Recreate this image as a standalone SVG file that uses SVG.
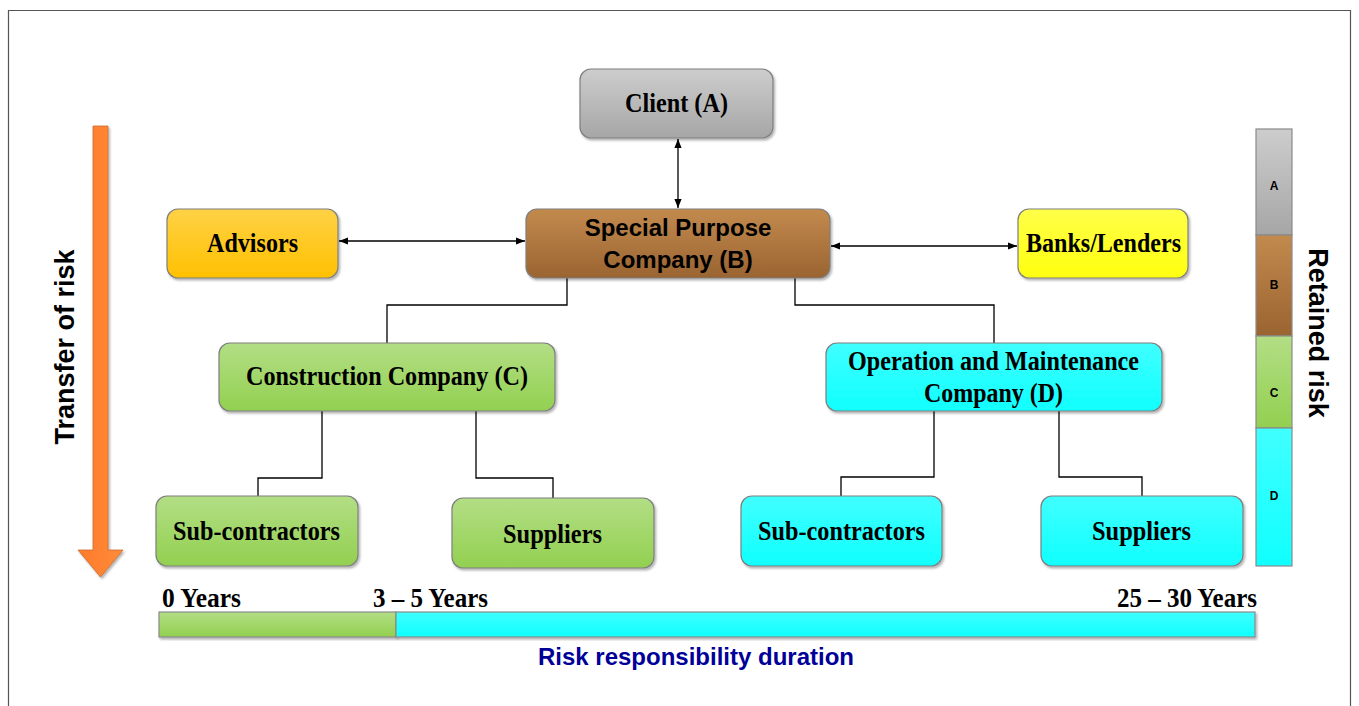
<svg xmlns="http://www.w3.org/2000/svg" width="1359" height="706" viewBox="0 0 1359 706">
  <defs>
    <linearGradient id="gGray" x1="0" y1="0" x2="0" y2="1"><stop offset="0" stop-color="#cdcdcd"/><stop offset="1" stop-color="#a6a6a6"/></linearGradient>
    <linearGradient id="gBrown" x1="0" y1="0" x2="0" y2="1"><stop offset="0" stop-color="#c38a4e"/><stop offset="1" stop-color="#9a6431"/></linearGradient>
    <linearGradient id="gGold" x1="0" y1="0" x2="0" y2="1"><stop offset="0" stop-color="#ffd246"/><stop offset="1" stop-color="#ffc000"/></linearGradient>
    <linearGradient id="gYellow" x1="0" y1="0" x2="0" y2="1"><stop offset="0" stop-color="#ffff48"/><stop offset="1" stop-color="#ffff10"/></linearGradient>
    <linearGradient id="gGreen" x1="0" y1="0" x2="0" y2="1"><stop offset="0" stop-color="#b3de85"/><stop offset="1" stop-color="#92d050"/></linearGradient>
    <linearGradient id="gCyan" x1="0" y1="0" x2="0" y2="1"><stop offset="0" stop-color="#40ffff"/><stop offset="1" stop-color="#10ffff"/></linearGradient>
    <linearGradient id="gOrange" x1="0" y1="0" x2="1" y2="0"><stop offset="0" stop-color="#ff7a2a"/><stop offset="1" stop-color="#ff8c3a"/></linearGradient>
    <filter id="shadow" x="-5%" y="-10%" width="112%" height="125%">
      <feDropShadow dx="1.5" dy="2" stdDeviation="1.2" flood-color="#000" flood-opacity="0.3"/>
    </filter>
    <marker id="arr" viewBox="0 0 10 10" refX="10" refY="5" markerWidth="9" markerHeight="9" orient="auto-start-reverse" markerUnits="userSpaceOnUse">
      <path d="M0,1 L10,5 L0,9 Z" fill="#000"/>
    </marker>
  </defs>
  <style>
    .box { stroke: #7f7f7f; stroke-width: 1.2; filter: url(#shadow); }
    .t { font-family: "Liberation Serif", "Times New Roman", serif; font-weight: bold; font-size: 27px; fill: #000; text-anchor: middle; }
    .ts { font-family: "Liberation Sans", Arial, sans-serif; font-weight: bold; fill: #000; text-anchor: middle; }
    .start { text-anchor: start; }
    .end { text-anchor: end; }
    .navy { fill: #000099; }
    .link { fill: none; stroke: #000; stroke-width: 1.3; }
    .bar { stroke: #8a8a8a; stroke-width: 1.2; }
  </style>

  <rect width="1359" height="706" fill="#fff"/>
  <!-- page frame -->
  <path d="M8.5,706 V10.5 H1350.5 V706" fill="none" stroke="#555" stroke-width="1.2"/>

  <!-- connectors -->
  <g id="connectors">
    <line class="link" x1="678" y1="139" x2="678" y2="208" marker-start="url(#arr)" marker-end="url(#arr)"/>
    <line class="link" x1="339" y1="241" x2="525" y2="241" marker-start="url(#arr)" marker-end="url(#arr)"/>
    <line class="link" x1="831" y1="246" x2="1017" y2="246" marker-start="url(#arr)" marker-end="url(#arr)"/>
    <path class="link" d="M567,278 V305 H387 V343"/>
    <path class="link" d="M795,278 V305 H994 V343"/>
    <path class="link" d="M322,411 V478 H258 V496"/>
    <path class="link" d="M476,411 V478 H553 V498"/>
    <path class="link" d="M934,411 V477 H841 V496"/>
    <path class="link" d="M1059,411 V477 H1142 V496"/>
  </g>

  <g id="client">
    <rect class="box" x="580" y="69" width="193" height="69" rx="11" fill="url(#gGray)"/>
    <text class="t" x="676.5" y="112" textLength="103" lengthAdjust="spacingAndGlyphs">Client (A)</text>
  </g>
  <g id="spc">
    <rect class="box" x="526" y="209" width="304" height="69" rx="11" fill="url(#gBrown)"/>
    <text class="ts" x="678" y="236" font-size="24">Special Purpose</text>
    <text class="ts" x="678" y="268" font-size="24">Company (B)</text>
  </g>
  <g id="advisors">
    <rect class="box" x="167" y="209" width="171" height="69" rx="11" fill="url(#gGold)"/>
    <text class="t" x="252.5" y="252" textLength="91" lengthAdjust="spacingAndGlyphs">Advisors</text>
  </g>
  <g id="banks">
    <rect class="box" x="1018" y="209" width="170" height="69" rx="11" fill="url(#gYellow)"/>
    <text class="t" x="1103.5" y="252" textLength="155" lengthAdjust="spacingAndGlyphs">Banks/Lenders</text>
  </g>
  <g id="construction">
    <rect class="box" x="219" y="343" width="336" height="68" rx="11" fill="url(#gGreen)"/>
    <text class="t" x="387" y="385" textLength="282" lengthAdjust="spacingAndGlyphs">Construction Company (C)</text>
  </g>
  <g id="om">
    <rect class="box" x="826" y="343" width="336" height="68" rx="11" fill="url(#gCyan)"/>
    <text class="t" x="993.5" y="370" textLength="291" lengthAdjust="spacingAndGlyphs">Operation and Maintenance</text>
    <text class="t" x="993.5" y="402" textLength="139" lengthAdjust="spacingAndGlyphs">Company (D)</text>
  </g>
  <g id="sub-c">
    <rect class="box" x="156" y="496" width="202" height="70" rx="11" fill="url(#gGreen)"/>
    <text class="t" x="256.5" y="540" textLength="167" lengthAdjust="spacingAndGlyphs">Sub-contractors</text>
  </g>
  <g id="sup-c">
    <rect class="box" x="452" y="498" width="202" height="70" rx="11" fill="url(#gGreen)"/>
    <text class="t" x="552.5" y="543" textLength="99" lengthAdjust="spacingAndGlyphs">Suppliers</text>
  </g>
  <g id="sub-d">
    <rect class="box" x="741" y="496" width="201" height="70" rx="11" fill="url(#gCyan)"/>
    <text class="t" x="841.5" y="540" textLength="167" lengthAdjust="spacingAndGlyphs">Sub-contractors</text>
  </g>
  <g id="sup-d">
    <rect class="box" x="1041" y="496" width="202" height="70" rx="11" fill="url(#gCyan)"/>
    <text class="t" x="1141.5" y="540" textLength="99" lengthAdjust="spacingAndGlyphs">Suppliers</text>
  </g>

  <!-- transfer of risk arrow -->
  <g id="transfer">
    <path d="M93,126 H108 V550 H123 L100.5,577 L78,550 H93 Z" fill="url(#gOrange)" stroke="#c86a30" stroke-width="0.8" filter="url(#shadow)"/>
    <text class="ts" font-size="27" transform="translate(74,347) rotate(-90)">Transfer of risk</text>
  </g>

  <!-- retained risk bar -->
  <g id="retained">
    <rect class="bar" x="1256" y="129" width="36" height="106" fill="url(#gGray)"/>
    <rect class="bar" x="1256" y="235" width="36" height="101" fill="url(#gBrown)"/>
    <rect class="bar" x="1256" y="336" width="36" height="92" fill="url(#gGreen)"/>
    <rect class="bar" x="1256" y="428" width="36" height="138" fill="url(#gCyan)"/>
    <text class="ts" font-size="12" x="1274" y="190">A</text>
    <text class="ts" font-size="12" x="1274" y="289">B</text>
    <text class="ts" font-size="12" x="1274" y="397">C</text>
    <text class="ts" font-size="12" x="1274" y="500">D</text>
    <text class="ts" font-size="27" transform="translate(1309,333) rotate(90)">Retained risk</text>
  </g>

  <!-- duration timeline -->
  <g id="timeline">
    <rect class="bar" x="159" y="612" width="237" height="25" fill="url(#gGreen)" filter="url(#shadow)"/>
    <rect class="bar" x="396" y="612" width="859" height="25" fill="url(#gCyan)" filter="url(#shadow)"/>
    <text class="t start" x="162" y="607" textLength="79" lengthAdjust="spacingAndGlyphs">0 Years</text>
    <text class="t start" x="373" y="607" textLength="115" lengthAdjust="spacingAndGlyphs">3 – 5 Years</text>
    <text class="t start" x="1117" y="607" textLength="140" lengthAdjust="spacingAndGlyphs">25 – 30 Years</text>
    <text class="ts navy" font-size="24" x="696" y="665">Risk responsibility duration</text>
  </g>
</svg>
